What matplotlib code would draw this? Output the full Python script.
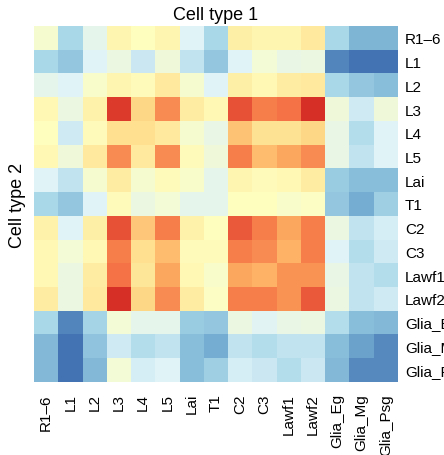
import numpy as np
import matplotlib
matplotlib.use('Agg')
import matplotlib.pyplot as plt

plt.rcParams['font.family'] = ['Liberation Sans', 'DejaVu Sans']

# Etiquettes des types cellulaires
cell_types = ['R1–6', 'L1', 'L2', 'L3', 'L4', 'L5', 'Lai', 'T1', 'C2', 'C3',
              'Lawf1', 'Lawf2', 'Glia_Eg', 'Glia_Mg', 'Glia_Psg']

# Valeurs (échelle 0-1 de la palette), une ligne par type
r_R16 = [0.47, 0.30, 0.42, 0.53, 0.50, 0.53, 0.40, 0.30, 0.55, 0.53, 0.53, 0.57, 0.30, 0.22, 0.22]
r_L1 = [0.30, 0.26, 0.40, 0.44, 0.36, 0.45, 0.34, 0.26, 0.40, 0.46, 0.43, 0.44, 0.13, 0.10, 0.10]
r_L2 = [0.42, 0.40, 0.48, 0.53, 0.51, 0.57, 0.47, 0.40, 0.55, 0.52, 0.56, 0.57, 0.30, 0.26, 0.24]
r_L3 = [0.52, 0.44, 0.54, 0.88, 0.62, 0.75, 0.56, 0.52, 0.84, 0.77, 0.79, 0.90, 0.45, 0.37, 0.45]
r_L4 = [0.50, 0.37, 0.51, 0.60, 0.60, 0.57, 0.47, 0.43, 0.66, 0.59, 0.59, 0.62, 0.43, 0.32, 0.40]
r_L5 = [0.52, 0.45, 0.57, 0.75, 0.57, 0.75, 0.51, 0.45, 0.77, 0.67, 0.71, 0.75, 0.43, 0.34, 0.40]
r_Lai = [0.40, 0.34, 0.47, 0.56, 0.47, 0.51, 0.48, 0.42, 0.53, 0.51, 0.52, 0.56, 0.27, 0.24, 0.24]
r_T1 = [0.30, 0.26, 0.40, 0.51, 0.44, 0.46, 0.42, 0.42, 0.50, 0.50, 0.48, 0.49, 0.26, 0.20, 0.28]
r_C2 = [0.54, 0.40, 0.55, 0.84, 0.65, 0.77, 0.54, 0.50, 0.83, 0.77, 0.71, 0.77, 0.44, 0.34, 0.38]
r_C3 = [0.52, 0.46, 0.52, 0.77, 0.60, 0.67, 0.51, 0.51, 0.77, 0.75, 0.69, 0.77, 0.40, 0.32, 0.37]
r_Lawf1 = [0.52, 0.44, 0.56, 0.79, 0.58, 0.71, 0.52, 0.48, 0.71, 0.69, 0.74, 0.74, 0.43, 0.34, 0.32]
r_Lawf2 = [0.56, 0.44, 0.57, 0.90, 0.62, 0.75, 0.56, 0.49, 0.77, 0.77, 0.74, 0.83, 0.44, 0.34, 0.37]
r_Eg = [0.30, 0.13, 0.29, 0.46, 0.42, 0.42, 0.27, 0.26, 0.44, 0.41, 0.43, 0.44, 0.32, 0.24, 0.23]
r_Mg = [0.23, 0.10, 0.25, 0.37, 0.32, 0.34, 0.24, 0.20, 0.34, 0.32, 0.34, 0.34, 0.24, 0.18, 0.14]
r_Psg = [0.23, 0.10, 0.23, 0.46, 0.38, 0.40, 0.24, 0.28, 0.38, 0.36, 0.32, 0.36, 0.23, 0.14, 0.14]

mat = np.array([r_R16, r_L1, r_L2, r_L3, r_L4, r_L5, r_Lai, r_T1, r_C2, r_C3,
                r_Lawf1, r_Lawf2, r_Eg, r_Mg, r_Psg])

fig = plt.figure(figsize=(4.44, 4.56), dpi=100)
ax = fig.add_axes([34 / 444, 1 - 383 / 456, 364 / 444, 356 / 456])
ax.imshow(mat, cmap='RdYlBu_r', vmin=0, vmax=1, aspect='auto', interpolation='nearest')

ax.set_xticks(range(len(cell_types)))
ax.set_xticklabels(cell_types, rotation=90, fontsize=11)
ax.set_yticks(range(len(cell_types)))
ax.set_yticklabels(cell_types, fontsize=11)
ax.yaxis.tick_right()
ax.tick_params(length=0, pad=5)
ax.tick_params(axis='x', pad=8)
for s in ax.spines.values():
    s.set_visible(False)

ax.set_xlabel('Cell type 1', fontsize=13)
ax.xaxis.set_label_position('top')
ax.xaxis.labelpad = 5
ax.set_ylabel('Cell type 2', fontsize=13)
ax.yaxis.set_label_position('left')
ax.yaxis.labelpad = 6

fig.savefig('out.png', dpi=100)
